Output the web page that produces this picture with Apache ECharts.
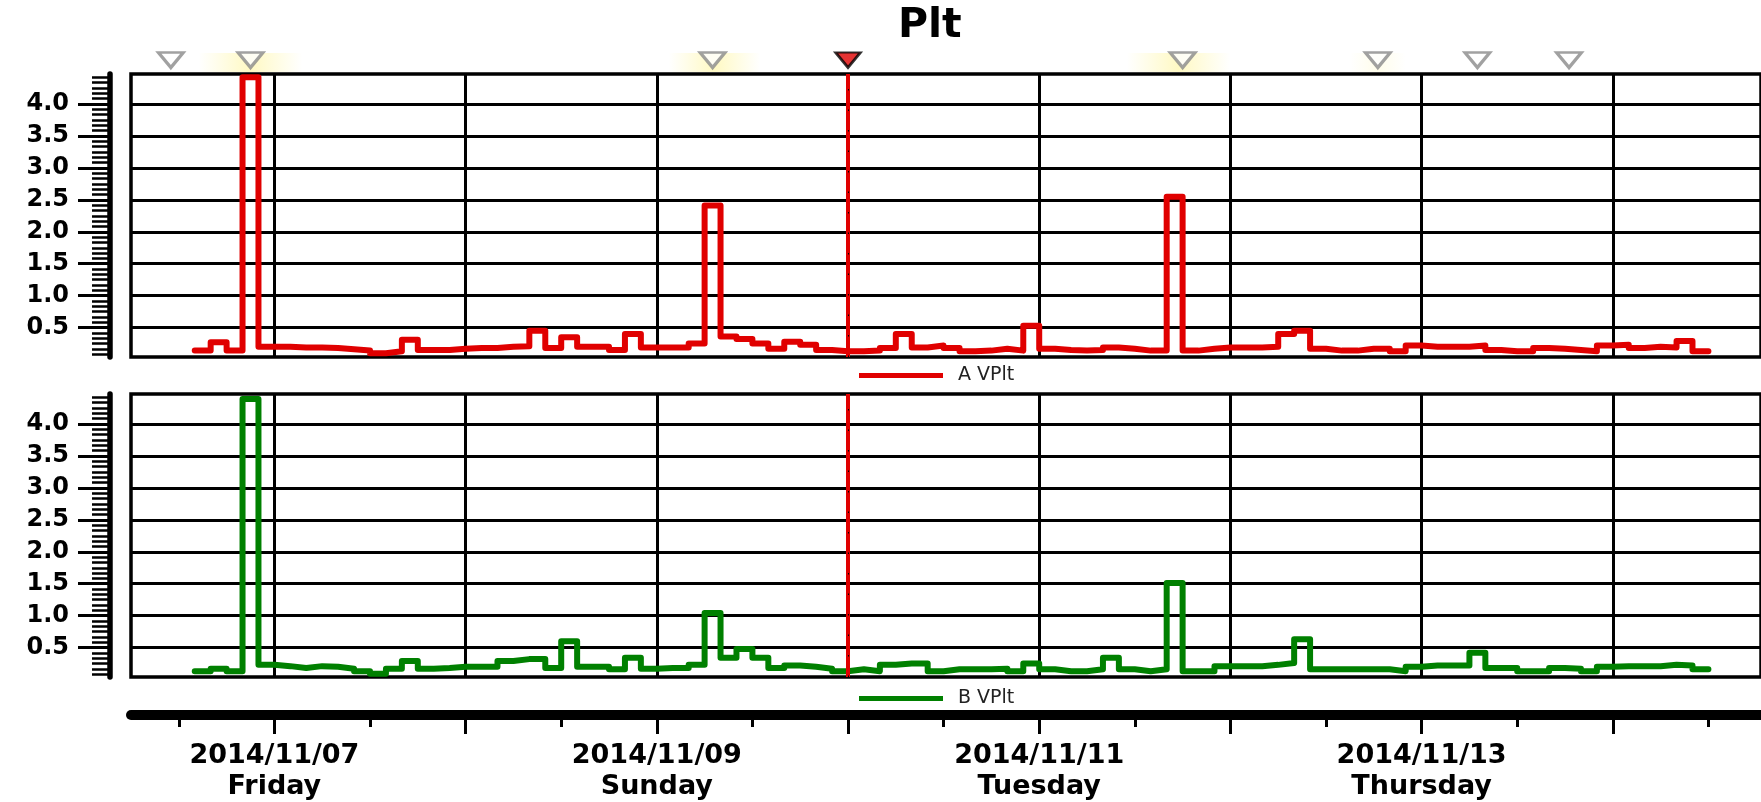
<!DOCTYPE html>
<html>
<head>
<meta charset="utf-8">
<title>Plt</title>
<script src="https://cdn.jsdelivr.net/npm/echarts@6/dist/echarts.min.js"></script>
<style>
html, body { margin: 0; padding: 0; background: #fff; }
#main { width: 1761px; height: 802px; }
</style>
</head>
<body>
<div id="main"></div>
<script>
// hours are counted from 2014/11/07 00:00, one sample every 2 hours
var firstHour = -10;
var stepHours = 2;

var valuesA = [
    0.14, 0.27, 0.14, 4.42, 0.20,
    0.20, 0.19, 0.19, 0.18, 0.16, 0.14, 0.10, 0.13, 0.31, 0.15, 0.15, 0.17, 0.18, 0.18, 0.20, 0.21, 0.45, 0.18, 0.35, 0.20,
    0.20, 0.15, 0.40, 0.19, 0.19, 0.19, 0.25, 2.41, 0.36, 0.32, 0.25, 0.17, 0.28, 0.23, 0.15, 0.13, 0.13, 0.14, 0.18, 0.40, 0.19, 0.22, 0.18, 0.13, 0.14,
    0.17, 0.14, 0.53, 0.17, 0.15, 0.14, 0.15, 0.19, 0.17, 0.14, 0.14, 2.55, 0.14, 0.17, 0.19, 0.19, 0.19, 0.20, 0.40, 0.45, 0.17, 0.14, 0.14, 0.17, 0.17,
    0.13, 0.22, 0.20, 0.20, 0.20, 0.22, 0.15, 0.13, 0.13, 0.18, 0.17, 0.15, 0.13, 0.22, 0.23, 0.18, 0.20, 0.19, 0.29, 0.13, 0.13
];
var valuesB = [
    0.13, 0.17, 0.13, 4.39, 0.23,
    0.21, 0.18, 0.21, 0.20, 0.17, 0.13, 0.09, 0.17, 0.29, 0.17, 0.18, 0.20, 0.20, 0.20, 0.29, 0.32, 0.32, 0.18, 0.60,
    0.20, 0.20, 0.16, 0.34, 0.17, 0.18, 0.18, 0.23, 1.04, 0.34, 0.48, 0.34, 0.18, 0.22, 0.20, 0.17, 0.13, 0.16, 0.13, 0.23, 0.25, 0.25, 0.13, 0.16, 0.16,
    0.16, 0.17, 0.13, 0.25, 0.16, 0.13, 0.13, 0.16, 0.34, 0.16, 0.13, 0.16, 1.51, 0.13, 0.13, 0.21, 0.21, 0.21, 0.23, 0.26, 0.63, 0.16, 0.16, 0.16, 0.16,
    0.16, 0.13, 0.20, 0.22, 0.22, 0.22, 0.42, 0.18, 0.18, 0.13, 0.13, 0.18, 0.17, 0.13, 0.20, 0.21, 0.21, 0.21, 0.23, 0.22, 0.16, 0.16
];

var dayLines = [0, 24, 48, 72, 96, 120, 144, 168];
var halfDayTicks = [-12, 12, 36, 60, 84, 108, 132, 156, 180];
var dateLabels = [0, 48, 96, 144];
var yLabels = [0.5, 1.0, 1.5, 2.0, 2.5, 3.0, 3.5, 4.0];
var weekDays = ['Sunday', 'Monday', 'Tuesday', 'Wednesday', 'Thursday', 'Friday', 'Saturday'];

var cursorHour = 72;
var eventHours = [-13, -3, 55, 114, 138.5, 151, 162.5];
// [from, to, strength] of the yellow highlight behind some events
var glowRanges = [[-9.5, 3.5, 1], [49.5, 61, 1], [107, 120, 1], [135, 142, 0.35]];

var xMin = -18;
var xMax = 186.6;
var font = "'DejaVu Sans', sans-serif";
var red = '#e00000';
var green = '#008000';

function toPairs(values) {
    return values.map(function (v, i) {
        return [firstHour + i * stepHours, v];
    });
}

function pad(n) {
    return n < 10 ? '0' + n : '' + n;
}

function plotXAxis(gridIndex) {
    return {
        type: 'value',
        gridIndex: gridIndex,
        min: xMin,
        max: xMax,
        axisLine: {show: false, onZero: false},
        axisTick: {show: false, customValues: dayLines},
        axisLabel: {show: false},
        splitLine: {show: true, lineStyle: {color: '#000', width: 3}}
    };
}

function plotYAxis(gridIndex) {
    return {
        type: 'value',
        gridIndex: gridIndex,
        min: 0.04,
        max: 4.47,
        splitNumber: 9,
        offset: 21,
        axisLine: {show: true, onZero: false, lineStyle: {color: '#000', width: 5.5, cap: 'round'}},
        axisTick: {show: true, customValues: yLabels, length: 32, lineStyle: {color: '#000', width: 3}},
        minorTick: {show: true, splitNumber: 6, length: 18, lineStyle: {color: '#000', width: 2.5}},
        axisLabel: {
            customValues: yLabels,
            margin: 41,
            color: '#000',
            fontSize: 24,
            fontWeight: 'bold',
            fontFamily: font,
            formatter: function (v) { return v.toFixed(1); }
        },
        splitLine: {show: true, lineStyle: {color: '#000', width: 3}}
    };
}

function cursorLine() {
    return {
        symbol: ['none', 'none'],
        silent: true,
        label: {show: false},
        data: [
            {xAxis: cursorHour, lineStyle: {color: red, width: 4, type: 'solid'}},
            {xAxis: cursorHour, lineStyle: {color: '#000', width: 1, type: [1.5, 19]}}
        ]
    };
}

function legendFor(name, top) {
    return {
        data: [name],
        left: 854,
        top: top,
        icon: 'rect',
        itemWidth: 84,
        itemHeight: 5,
        selectedMode: false,
        textStyle: {fontSize: 19, color: '#222', fontFamily: font, padding: [0, 0, 0, 10]}
    };
}

var glowAreas = glowRanges.map(function (g) {
    return [{
        xAxis: g[0],
        itemStyle: {
            color: {
                type: 'linear', x: 0, y: 0, x2: 1, y2: 0,
                colorStops: [
                    {offset: 0, color: 'rgba(255,250,200,0)'},
                    {offset: 0.5, color: 'rgba(255,249,195,' + g[2] + ')'},
                    {offset: 1, color: 'rgba(255,250,200,0)'}
                ]
            }
        }
    }, {xAxis: g[1]}];
});

var option = {
    animation: false,
    backgroundColor: '#fff',
    title: {
        text: 'Plt',
        left: 893,
        top: 1,
        textStyle: {fontSize: 41, fontWeight: 'bold', color: '#000', fontFamily: font}
    },
    legend: [legendFor('A VPlt', 361), legendFor('B VPlt', 684)],
    grid: [
        {left: 131, right: -2, top: 74, height: 283, show: true, borderColor: '#000', borderWidth: 3.5},
        {left: 131, right: -2, top: 394, height: 283, show: true, borderColor: '#000', borderWidth: 3.5},
        {left: 131, right: -2, top: 700, height: 20},
        {left: 131, right: -2, top: 53, height: 19}
    ],
    xAxis: [
        plotXAxis(0),
        plotXAxis(1),
        {
            type: 'value',
            gridIndex: 2,
            position: 'bottom',
            min: xMin,
            max: xMax,
            axisLine: {show: true, onZero: false, lineStyle: {color: '#000', width: 10, cap: 'round'}},
            axisTick: {show: true, customValues: dayLines, length: 19, lineStyle: {color: '#000', width: 3}},
            axisLabel: {
                customValues: dateLabels,
                margin: 25,
                color: '#000',
                fontSize: 27,
                lineHeight: 31,
                fontWeight: 'bold',
                fontFamily: font,
                formatter: function (h) {
                    var d = new Date(2014, 10, 7 + Math.round(h / 24));
                    return d.getFullYear() + '/' + pad(d.getMonth() + 1) + '/' + pad(d.getDate()) +
                        '\n' + weekDays[d.getDay()];
                }
            },
            splitLine: {show: false}
        },
        {
            type: 'value',
            gridIndex: 2,
            position: 'bottom',
            min: xMin,
            max: xMax,
            axisLine: {show: false, onZero: false},
            axisTick: {show: true, customValues: halfDayTicks, length: 12, lineStyle: {color: '#000', width: 3}},
            axisLabel: {show: false},
            splitLine: {show: false}
        },
        {type: 'value', gridIndex: 3, min: xMin, max: xMax, show: false}
    ],
    yAxis: [
        plotYAxis(0),
        plotYAxis(1),
        {type: 'value', gridIndex: 2, min: 0, max: 1, show: false},
        {type: 'value', gridIndex: 3, min: 0, max: 1, show: false}
    ],
    series: [{
        name: 'A VPlt',
        type: 'line',
        xAxisIndex: 0,
        yAxisIndex: 0,
        step: 'end',
        showSymbol: false,
        color: red,
        lineStyle: {color: red, width: 6, cap: 'round', join: 'round'},
        data: toPairs(valuesA),
        markLine: cursorLine()
    }, {
        name: 'B VPlt',
        type: 'line',
        xAxisIndex: 1,
        yAxisIndex: 1,
        step: 'end',
        showSymbol: false,
        color: green,
        lineStyle: {color: green, width: 6, cap: 'round', join: 'round'},
        data: toPairs(valuesB),
        markLine: cursorLine()
    }, {
        type: 'scatter',
        xAxisIndex: 4,
        yAxisIndex: 3,
        symbol: 'triangle',
        symbolRotate: 180,
        symbolSize: [25, 15],
        silent: true,
        itemStyle: {color: '#fff', borderColor: '#8a8a8a', borderWidth: 3},
        data: eventHours.map(function (h) { return [h, 0.63]; }),
        markArea: {silent: true, data: glowAreas}
    }, {
        type: 'scatter',
        xAxisIndex: 4,
        yAxisIndex: 3,
        symbol: 'triangle',
        symbolRotate: 180,
        symbolSize: [25, 15],
        silent: true,
        itemStyle: {color: red, borderColor: '#000', borderWidth: 2.5},
        data: [[cursorHour, 0.63]]
    }]
};

var chart = echarts.init(document.getElementById('main'));
chart.setOption(option);
</script>
</body>
</html>
